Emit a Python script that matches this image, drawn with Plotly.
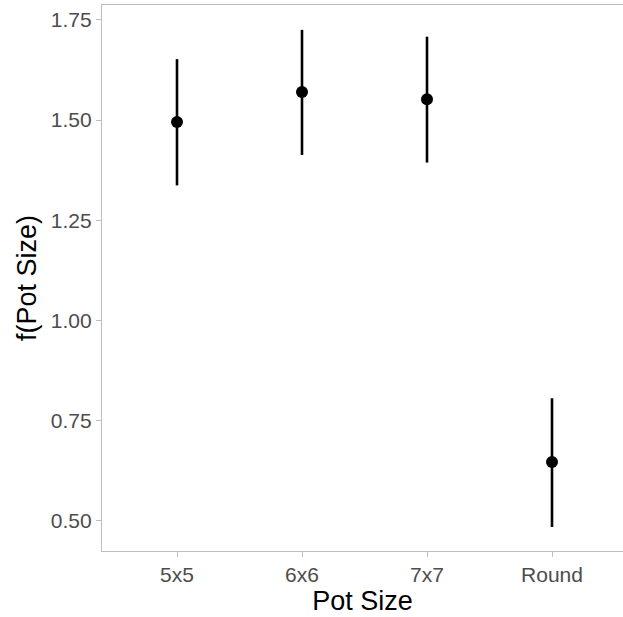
import plotly.graph_objects as go

categories = ["5x5", "6x6", "7x7", "Round"]
estimates = [1.495, 1.570, 1.552, 0.647]
upper = [1.652, 1.725, 1.708, 0.806]
lower = [1.337, 1.413, 1.394, 0.485]
y_ticks = [0.50, 0.75, 1.00, 1.25, 1.50, 1.75]
y_tick_labels = ["0.50", "0.75", "1.00", "1.25", "1.50", "1.75"]

err_plus = [u - e for u, e in zip(upper, estimates)]
err_minus = [e - l for e, l in zip(estimates, lower)]

fig = go.Figure()
fig.add_trace(go.Scatter(
    x=categories, y=estimates, mode="markers",
    marker=dict(color="black", size=12),
    error_y=dict(type="data", symmetric=False, array=err_plus, arrayminus=err_minus,
                 color="black", thickness=2.6, width=0),
    showlegend=False,
))

axis_color = "#BDBDBD"
fig.update_layout(
    width=623, height=617,
    margin=dict(l=102, r=0, t=5, b=66),
    plot_bgcolor="white", paper_bgcolor="white",
    font=dict(family="Liberation Sans, Arial, sans-serif"),
    xaxis=dict(
        type="category", range=[-0.6, 3.568],
        showline=True, linecolor=axis_color, linewidth=1.2, mirror=True,
        ticks="outside", ticklen=5, tickcolor=axis_color, tickwidth=1.2,
        showgrid=False, zeroline=False,
        tickfont=dict(size=21, color="#4D4D4D"),
        title=dict(text="Pot Size", font=dict(size=27, color="black"), standoff=2),
    ),
    yaxis=dict(
        range=[0.425, 1.787],
        tickvals=y_ticks, ticktext=y_tick_labels,
        showline=True, linecolor=axis_color, linewidth=1.2,
        ticks="outside", ticklen=5, tickcolor=axis_color, tickwidth=1.2,
        showgrid=False, zeroline=False,
        tickfont=dict(size=21, color="#4D4D4D"),
        title=dict(text="f(Pot Size)", font=dict(size=27, color="black"), standoff=6),
    ),
)

fig.write_html("out.html")
